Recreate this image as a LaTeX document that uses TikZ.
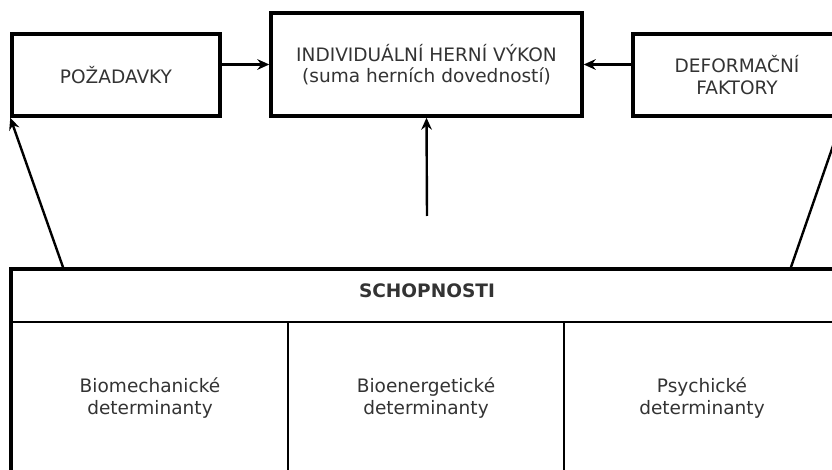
\documentclass[tikz,border=0pt]{standalone}
\usepackage{fontspec}
\setmainfont{DejaVu Sans}
\usetikzlibrary{arrows.meta}
\definecolor{txtgray}{RGB}{51,51,51}
\begin{document}
\begin{tikzpicture}[x=0.75pt,y=0.75pt,yscale=-1,xscale=1,
	box/.style={draw, line width=2.6pt, align=center, text=txtgray, inner sep=0pt, font=\fontsize{13.9}{16.3}\selectfont},
	cell/.style={draw, line width=1.6pt, align=center, text=txtgray, inner sep=0pt, font=\fontsize{13.9}{16.3}\selectfont},
	arr/.style={-{Stealth[length=9pt,width=8pt,inset=3pt]}, line width=1.8pt}]
	\clip (0,0) rectangle (832,470);
	%Shape: Rectangle [id:req]
	\node [box, minimum width=156pt, minimum height=61.5pt] (req) at (116,75) {POŽADAVKY};
	%Shape: Rectangle [id:perf]
	\node [box, minimum width=233.25pt, minimum height=77.25pt] (perf) at (426.5,64.5) {INDIVIDUÁLNÍ HERNÍ VÝKON\\(suma herních dovedností)};
	%Shape: Rectangle [id:def]
	\node [box, minimum width=156pt, minimum height=61.5pt] (def) at (737,75) {DEFORMAČNÍ\\FAKTORY};
	%Shape: Table [id:abil]
	\node [cell, minimum width=621pt, minimum height=39pt] (abil) at (426,296) {};
	\node [text=txtgray, font=\fontsize{13.9}{16.3}\selectfont\bfseries] (abiltxt) at (427,291) {SCHOPNOSTI};
	\node [cell, minimum width=207pt, minimum height=114pt] (bio) at (150,398) {Biomechanické\\determinanty};
	\node [cell, minimum width=207pt, minimum height=114pt] (energ) at (426,398) {Bioenergetické\\determinanty};
	\node [cell, minimum width=207pt, minimum height=114pt] (psy) at (702,398) {Psychické\\determinanty};
	\draw [line width=2.6pt] (bio.south west) |- (abil.north east);
	%Straight Lines
	\coordinate (lft) at (64,270);
	\coordinate (rgt) at (790,270);
	\coordinate (mid) at (427,216);
	\draw [arr] (req.east |- perf.west) -- (perf.west);
	\draw [arr] (def.west |- perf.east) -- (perf.east);
	\draw [arr] (mid) -- (perf.south);
	\draw [arr] (lft) -- (req.south west);
	\draw [arr] (rgt) -- (def.south east);
\end{tikzpicture}
\end{document}
